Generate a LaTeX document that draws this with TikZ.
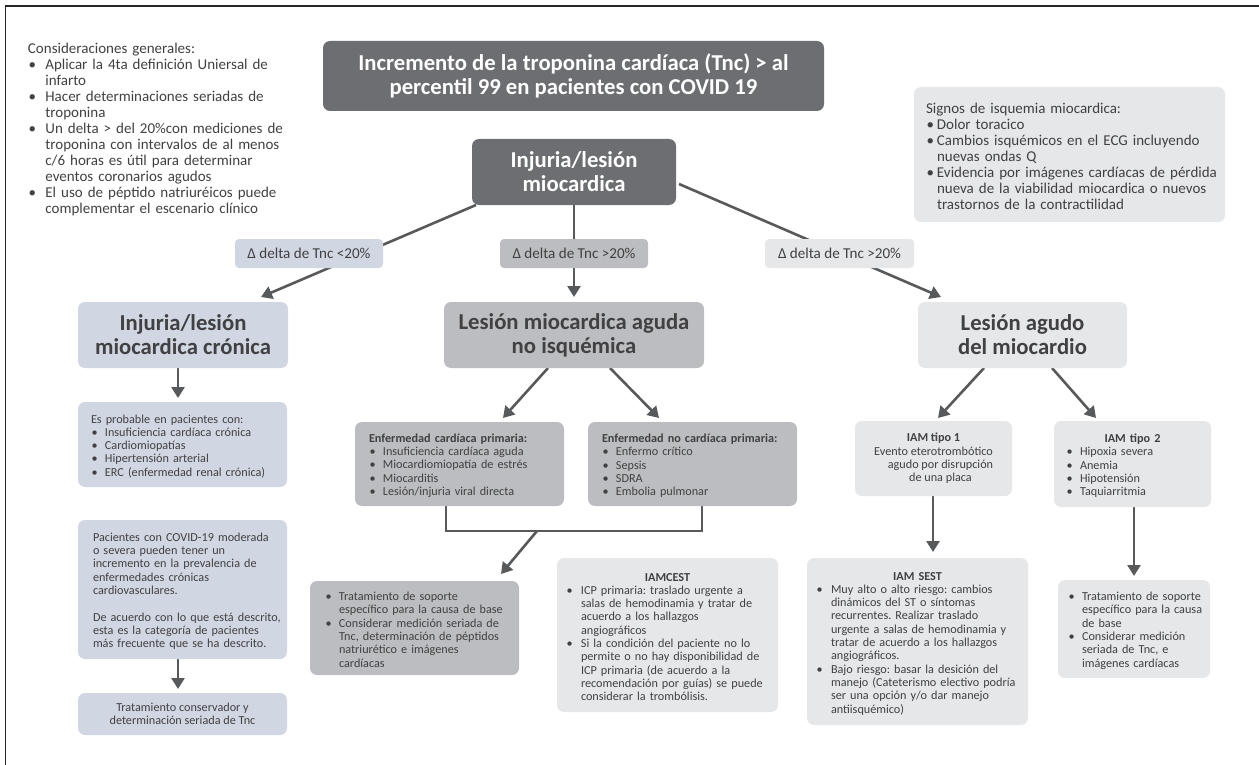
\documentclass[tikz,border=0pt]{standalone}
\usepackage{fontspec}
\setmainfont{Carlito}
\usetikzlibrary{arrows.meta}
\definecolor{dk}{HTML}{6D6E71}
\definecolor{bl}{HTML}{D1D7E2}
\definecolor{md}{HTML}{BCBDC0}
\definecolor{lt}{HTML}{E6E7E8}
\definecolor{ln}{HTML}{58595B}
\definecolor{tx}{HTML}{414042}
\newlength{\bw}\setlength{\bw}{14pt}
\newcommand{\B}{\makebox[\bw][l]{\kern0.5pt\textbullet}}
\newcommand{\C}{\hspace*{\bw}}
\newcommand{\Lp}[1]{\frenchspacing\leftskip=\dimexpr#1pt-2pt\relax\rule{0pt}{0.9\baselineskip}}
\newcommand{\Hd}[2]{\hspace*{\dimexpr\bxw pt/2-#1pt\relax}\makebox[0pt]{\textbf{#2}}}
% name, style, x1, y1, x2, y2, text
\newcommand{\bx}[7]{%
  \pgfmathsetmacro{\bxw}{#5-#3}\pgfmathsetmacro{\bxh}{#6-#4}%
  \pgfmathsetmacro{\bxx}{(#3+#5)/2}\pgfmathsetmacro{\bxy}{(#4+#6)/2}%
  \node[#2,minimum width=\bxw pt,minimum height=\bxh pt] (#1) at (\bxx,\bxy) {#7\par};}
\tikzset{
  x=1pt,y=-1pt,
  boxbase/.style={rectangle,rounded corners=7pt,inner sep=0pt,text=tx},
  small/.style={boxbase,font=\fontsize{12.2}{13.3}\selectfont},
  txtbox/.style={small,align=left,text width=\bxw pt-4pt},
  bigbox/.style={boxbase,align=left,text width=\bxw pt-4pt,font=\fontsize{15}{16}\selectfont},
  hdark/.style={boxbase,fill=dk,text=white,align=center,font=\fontsize{22.7}{24.2}\selectfont\bfseries},
  hbl/.style={boxbase,fill=bl,align=center,font=\fontsize{22.7}{24.2}\selectfont\bfseries},
  hmd/.style={boxbase,fill=md,align=center,font=\fontsize{22.7}{24.2}\selectfont\bfseries},
  hlt/.style={boxbase,fill=lt,align=center,font=\fontsize{22.7}{24.2}\selectfont\bfseries},
  lab/.style={boxbase,rounded corners=4pt,font=\fontsize{15.1}{16}\selectfont,align=center},
  conn/.style={draw=ln,line width=2.6pt,-{Triangle[length=11pt,width=13pt]}},
  plain/.style={draw=ln,line width=2.4pt}
}
\begin{document}
\begin{tikzpicture}
\useasboundingbox (0,0) rectangle (1259,765);
\coordinate (fa) at (5.5,765);
\coordinate (fb) at (5.5,6);
\coordinate (fc) at (1259,6);
\draw[line width=1.3pt,draw=black!85] (fa) -- (fb) -- (fc);
% connector ends
\coordinate (a1s) at (476,205);
\coordinate (a1e) at (261,297);
\coordinate (a2s) at (574,205);
\coordinate (a2e) at (574,297);
\coordinate (a3s) at (679,184);
\coordinate (a3e) at (941,297);
\coordinate (b1s) at (548,368);
\coordinate (b1e) at (503,418);
\coordinate (b2s) at (610,368);
\coordinate (b2e) at (659,418);
\coordinate (c1s) at (984,368);
\coordinate (c1e) at (938,418);
\coordinate (c2s) at (1052,368);
\coordinate (c2e) at (1096,418);
\coordinate (d1) at (178,368);
\coordinate (d1e) at (178,398);
\coordinate (d2) at (178,659);
\coordinate (d2e) at (178,689);
\coordinate (e1) at (446,506);
\coordinate (e2) at (446,531);
\coordinate (e3) at (702,531);
\coordinate (e4) at (702,506);
\coordinate (e5) at (537,531);
\coordinate (e6) at (501,574);
\coordinate (f1) at (933,496);
\coordinate (f1e) at (933,552);
\coordinate (f2) at (1134,507);
\coordinate (f2e) at (1134,576);
\draw[conn] (a1s) -- (a1e);
\draw[conn] (a2s) -- (a2e);
\draw[conn] (a3s) -- (a3e);
\draw[conn] (b1s) -- (b1e);
\draw[conn] (b2s) -- (b2e);
\draw[conn] (c1s) -- (c1e);
\draw[conn] (c2s) -- (c2e);
\draw[conn] (d1) -- (d1e);
\draw[conn] (d2) -- (d2e);
\draw[plain] (e1) -- (e2) -- (e3) -- (e4);
\draw[conn] (e5) -- (e6);
\draw[conn] (f1) -- (f1e);
\draw[conn] (f2) -- (f2e);
% general considerations (no fill)
\bx{gen}{bigbox}{28}{39}{288}{216}{\Lp{0}\setlength{\bw}{17.4pt}Consideraciones generales:\\
\B Aplicar la 4ta definición Uniersal de\\
\C infarto\\
\B Hacer determinaciones seriadas de\\
\C troponina\\
\B Un delta > del 20\%con mediciones de\\
\C troponina con intervalos de al menos\\
\C c/6 horas es útil para determinar\\
\C eventos coronarios agudos\\
\B El uso de péptido natriuréicos puede\\
\C complementar el escenario clínico}
% top boxes
\bx{title}{hdark}{323}{41}{824}{111}{Incremento de la troponina cardíaca (Tnc) > al\\percentil 99 en pacientes con COVID 19}
\bx{top}{hdark}{472}{139}{676}{205}{Injuria/lesión\\miocardica}
\bx{signos}{bigbox,fill=lt}{914}{87}{1225}{222}{\Lp{12}\setlength{\bw}{11pt}Signos de isquemia miocardica:\\
\B Dolor toracico\\
\B Cambios isquémicos en el ECG incluyendo\\
\C nuevas ondas Q\\
\B Evidencia por imágenes cardíacas de pérdida\\
\C nueva de la viabilidad miocardica o nuevos\\
\C trastornos de la contractilidad}
% delta labels
\bx{l1}{lab,fill=bl}{235}{239}{383}{268}{Δ delta de Tnc <20\%}
\bx{l2}{lab,fill=md}{500}{239}{648}{268}{Δ delta de Tnc >20\%}
\bx{l3}{lab,fill=lt}{765}{239}{914}{268}{Δ delta de Tnc >20\%}
% second row
\bx{cron}{hbl}{78}{302}{288}{368}{Injuria/lesión\\miocardica crónica}
\bx{noisq}{hmd}{444}{302}{704}{368}{Lesión miocardica aguda\\no isquémica}
\bx{agudo}{hlt}{918}{302}{1127}{368}{Lesión agudo\\del miocardio}
% left column
\bx{prob}{txtbox,fill=bl}{78}{402}{287}{487}{\Lp{13}Es probable en pacientes con:\\
\B Insuficiencia cardíaca crónica\\
\B Cardiomiopatías\\
\B Hipertensión arterial\\
\B ERC (enfermedad renal crónica)}
\bx{pac}{txtbox,fill=bl}{78}{520}{287}{659}{\Lp{15}Pacientes con COVID-19 moderada\\
o severa pueden tener un\\
incremento en la prevalencia de\\
enfermedades crónicas\\
cardiovasculares.\\[13.3pt]
De acuerdo con lo que está descrito,\\
esta es la categoría de pacientes\\
más frecuente que se ha descrito.}
\bx{cons}{small,fill=bl,align=center}{78}{693}{287}{735}{Tratamiento conservador y\\determinación seriada de Tnc}
% middle
\bx{card}{txtbox,fill=md}{355}{422}{564}{506}{\Lp{14}\textbf{Enfermedad cardíaca primaria:}\\
\B Insuficiencia cardíaca aguda\\
\B Miocardiomiopatía de estrés\\
\B Miocarditis\\
\B Lesión/injuria viral directa}
\bx{nocard}{txtbox,fill=md}{588}{422}{797}{506}{\Lp{14}\textbf{Enfermedad no cardíaca primaria:}\\
\B Enfermo crítico\\
\B Sepsis\\
\B SDRA\\
\B Embolia pulmonar}
\bx{sop}{txtbox,fill=md}{310}{581}{519}{675}{\Lp{15}\B Tratamiento de soporte\\
\C específico para la causa de base\\
\B Considerar medición seriada de\\
\C Tnc, determinación de péptidos\\
\C natriurético e imágenes\\
\C cardíacas}
\bx{cest}{txtbox,fill=lt}{557}{558}{778}{712}{\Lp{9}\setlength{\bw}{15pt}\Hd{9}{IAMCEST}\\
\B ICP primaria: traslado urgente a\\
\C salas de hemodinamia y tratar de\\
\C acuerdo a los hallazgos\\
\C angiográficos\\
\B Si la condición del paciente no lo\\
\C permite o no hay disponibilidad de\\
\C ICP primaria (de acuerdo a la\\
\C recomendación por guías) se puede\\
\C considerar la trombólisis.}
% right
\bx{t1}{small,fill=lt,align=center}{855}{421}{1012}{496}{\textbf{IAM tipo 1}\\Evento eterotrombótico\\\hspace*{14pt}agudo por disrupción\\\hspace*{14pt}de una placa}
\bx{t2}{txtbox,fill=lt}{1054}{421}{1211}{507}{\Lp{12}\Hd{12}{IAM tipo 2}\\
\B Hipoxia severa\\
\B Anemia\\
\B Hipotensión\\
\B Taquiarritmia}
\bx{sest}{txtbox,fill=lt}{807}{558}{1028}{725}{\Lp{9}\setlength{\bw}{15pt}\Hd{9}{IAM SEST}\\
\B Muy alto o alto riesgo: cambios\\
\C dinámicos del ST o síntomas\\
\C recurrentes. Realizar traslado\\
\C urgente a salas de hemodinamia y\\
\C tratar de acuerdo a los hallazgos\\
\C angiográficos.\\
\B Bajo riesgo: basar la desición del\\
\C manejo (Cateterismo electivo podría\\
\C ser una opción y/o dar manejo\\
\C antiisquémico)}
\bx{t3}{txtbox,fill=lt}{1058}{580}{1210}{678}{\Lp{10}\B Tratamiento de soporte\\
\C específico para la causa\\
\C de base\\
\B Considerar medición\\
\C seriada de Tnc, e\\
\C imágenes cardíacas}
\end{tikzpicture}
\end{document}
